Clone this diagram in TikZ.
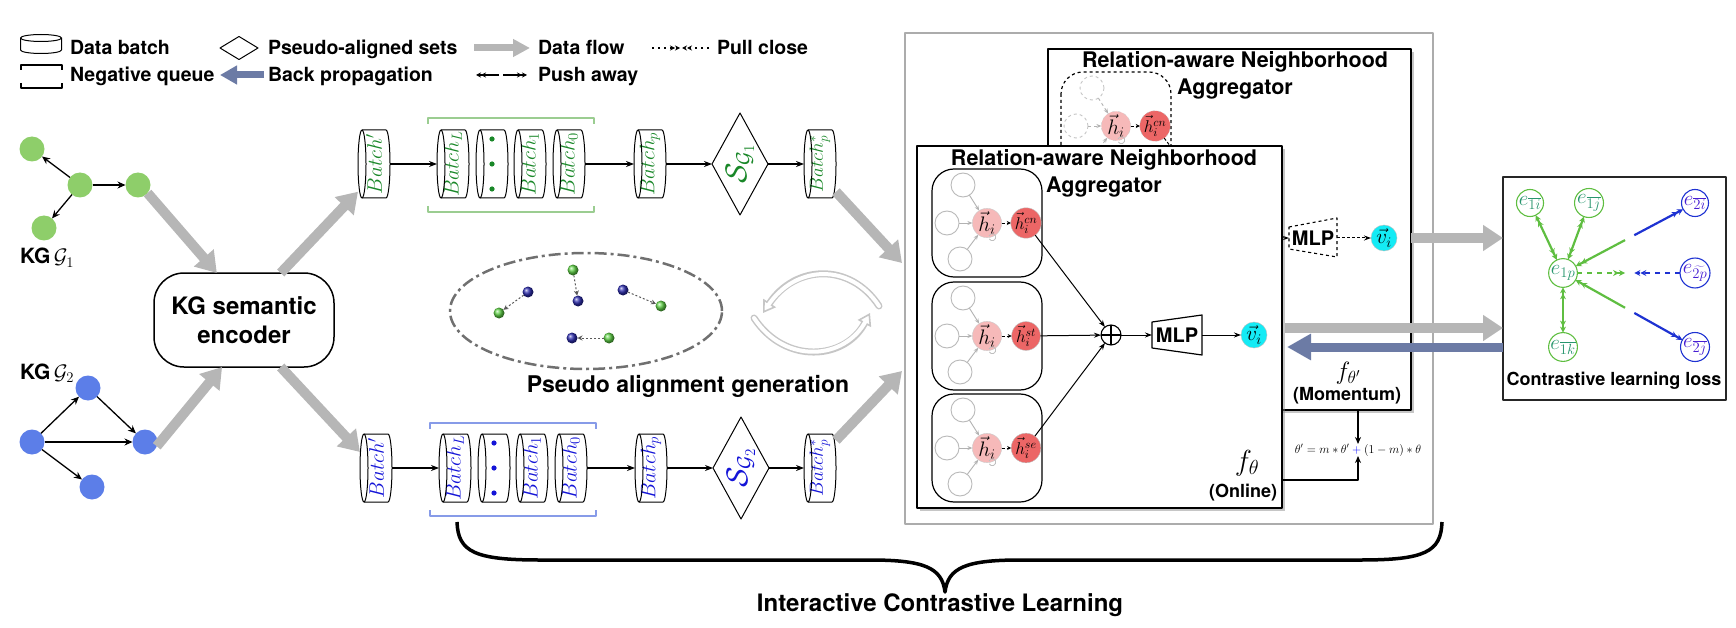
\RequirePackage{fix-cm}
\documentclass[tikz,border=0pt]{standalone}
\usepackage{graphicx}
\usepackage{fontspec}
\setmainfont{TeX Gyre Heros}
\usetikzlibrary{arrows.meta,shapes.geometric,shadows,calc}
\definecolor{kggreen}{RGB}{142,206,106}
\definecolor{kgblue}{RGB}{92,126,232}
\definecolor{txtgreen}{RGB}{25,135,40}
\definecolor{txtblue}{RGB}{20,20,215}
\definecolor{brgreen}{RGB}{155,205,145}
\definecolor{brblue}{RGB}{135,155,232}
\definecolor{flowgray}{RGB}{182,182,182}
\definecolor{bpblue}{RGB}{108,123,165}
\definecolor{hpink}{RGB}{246,185,185}
\definecolor{hred}{RGB}{236,102,102}
\definecolor{vcyan}{RGB}{20,235,245}
\definecolor{clgreen}{RGB}{95,190,65}
\definecolor{clblue}{RGB}{30,50,210}
\definecolor{cltxtg}{RGB}{40,150,110}
\definecolor{cltxtb}{RGB}{70,30,210}
\definecolor{dotg}{RGB}{95,210,70}
\definecolor{dotb}{RGB}{45,45,175}
\newcommand\myfs[1]{\fontsize{#1}{#1}\selectfont}
\newcommand\bt[3]{\rotatebox{90}{\myfs{#1}\textcolor{#2}{$#3$}}}
\newcommand\batchcyl[4]{%
  \node[batchbox] (#1) at (#2,#3) {#4};
  \draw[cylline] ($(#1.north west)+(4,0)$) -- ($(#1.north east)+(-4,0)$)
     arc[start angle=90,end angle=-90,x radius=4pt,y radius=34pt]
     -- ($(#1.south west)+(4,0)$)
     arc[start angle=270,end angle=90,x radius=4pt,y radius=34pt];
  \draw[cylline] ($(#1.north west)+(4,0)$) arc[start angle=90,end angle=-90,x radius=4pt,y radius=34pt];
}
\newcommand\aggbox[5]{%
  \draw[#5box] (#2,#3) rectangle ++(110,108);
  \node[#5nb] (#1t) at ($(#2,#3)+(31,16)$) {};
  \node[#5nb] (#1l) at ($(#2,#3)+(15,54)$) {};
  \node[#5nb] (#1b) at ($(#2,#3)+(28,90)$) {};
  \node[#5hn] (#1h) at ($(#2,#3)+(55,54)$) {$\vec{h}_i$};
  \node[#5xn] (#1x) at ($(#2,#3)+(94,54)$) {$\vec{h}_i^{#4}$};
  \draw[#5ga] (#1t) -- (#1h);
  \draw[#5ga] (#1l) -- (#1h);
  \draw[#5ga] (#1b) -- (#1h);
  \draw[hdash] (#1h) -- (#1x);
  \draw[loopst] ($(#1h)+(2,13)$) arc[start angle=160,end angle=-150,radius=3.5pt];
}
\tikzset{
  lbl/.style={font=\myfs{19.5}\bfseries, anchor=base west},
  kgg/.style={circle, fill=kggreen, minimum size=25pt},
  kgb/.style={circle, fill=kgblue, minimum size=25pt},
  kge/.style={line width=1.3pt, -{Stealth[length=8pt,width=7pt]}},
  flow/.style={draw=flowgray, line width=10pt, -{Triangle[length=20pt,width=25pt]}},
  flowsm/.style={draw=flowgray, line width=7pt, -{Triangle[length=17pt,width=17pt]}},
  bparr/.style={draw=bpblue, line width=9pt, -{Triangle[length=24pt,width=25pt]}},
  bparrsm/.style={draw=bpblue, line width=7pt, -{Triangle[length=17pt,width=18pt]}},
  batchbox/.style={minimum width=32pt, minimum height=68pt},
  cylline/.style={line width=1pt},
  rowarr/.style={line width=1.3pt, -{Stealth[length=8pt,width=6pt]}},
  rowdia/.style={draw, diamond, minimum width=56pt, minimum height=102pt, line width=1pt},
  pdg/.style={circle, minimum size=11pt, ball color=dotg},
  pdb/.style={circle, minimum size=11pt, ball color=dotb},
  pdarr/.style={draw=gray!70!black, line width=1pt, dash pattern=on 2pt off 2pt, -{Stealth[length=5pt,width=5pt]}},
  onbox/.style={rounded corners=22pt, line width=1.2pt},
  ghbox/.style={rounded corners=22pt, line width=1.2pt, dashed},
  onnb/.style={circle, draw=gray!55, minimum size=24pt, line width=0.9pt},
  ghnb/.style={onnb, draw=gray!45, dashed},
  onhn/.style={circle, fill=hpink, draw=gray!40, minimum size=24pt, font=\myfs{21}},
  ghhn/.style={onhn, dashed},
  onxn/.style={circle, fill=hred, draw=gray!50, minimum size=25pt, font=\myfs{17}},
  ghxn/.style={onxn, dashed},
  onga/.style={draw=gray!60, line width=0.9pt, -{Stealth[length=5pt,width=4pt]}},
  ghga/.style={onga, dashed},
  hdash/.style={densely dashed, line width=0.9pt, -{Stealth[length=4pt,width=4pt]}},
  loopst/.style={draw=gray!50, line width=0.8pt},
  thinarr/.style={line width=1pt, -{Stealth[length=7pt,width=5pt]}},
  vnode/.style={circle, fill=vcyan, draw=gray!50, minimum size=26pt, font=\myfs{21}},
  bigbox/.style={draw, fill=white, line width=1.5pt, drop shadow={shadow xshift=3pt, shadow yshift=-3pt, opacity=.45}},
  clg/.style={circle, draw=clgreen, line width=1.1pt, minimum size=27pt, text=cltxtg, font=\myfs{21}},
  clb/.style={circle, draw=clblue, line width=1.1pt, minimum size=27pt, text=cltxtb, font=\myfs{21}},
  dtip/.tip={Stealth[length=6pt,width=6pt]Stealth[length=6pt,width=6pt]},
  pushg/.style={draw=clgreen, line width=2.2pt, dtip-dtip},
  halfg/.style={draw=clgreen, line width=2.2pt, -dtip},
  halfb/.style={draw=clblue, line width=2.2pt, -dtip},
  pullg/.style={draw=clgreen, line width=2.2pt, dash pattern=on 5pt off 5pt, -dtip},
  pullb/.style={draw=clblue, line width=2.2pt, dash pattern=on 5pt off 5pt, -dtip},
  cycout/.style={draw=gray!45, line width=7pt, line cap=round, -{Triangle[open, fill=white, length=12pt, width=15pt, line width=1.6pt]}},
  cycin/.style={draw=white, line width=4pt, line cap=round, shorten >=9pt},
}
\begin{document}
\begin{tikzpicture}[x=1pt,y=-1pt,line join=round,every node/.style={inner sep=0pt,outer sep=0pt}]
\useasboundingbox (0,0) rectangle (1736,628);
% ---------------- legend
\node[minimum width=41pt, minimum height=18pt] (legcyl) at (41,44) {};
\draw[line width=1pt] (41,38) ellipse [x radius=20.5pt, y radius=3.5pt];
\draw[line width=1pt] (20.5,38) -- (20.5,50) arc[start angle=180,end angle=360,x radius=20.5pt,y radius=3.5pt] -- (61.5,38);
\node[lbl] (tdb) at (70,55) {Data batch};
\draw[line width=1.5pt] (21,70) -- (21,65) -- (62,65) -- (62,70);
\draw[line width=1.5pt] (21,83) -- (21,88) -- (62,88) -- (62,83);
\node[lbl] (tnq) at (70,82) {Negative queue};
\node[draw, diamond, minimum width=38pt, minimum height=23pt, line width=1pt] (legdia) at (239,48) {};
\node[lbl] (tpas) at (268,55) {Pseudo-aligned sets};
\coordinate (lbp1) at (264,75); \coordinate (lbp2) at (220,75);
\draw[bparrsm] (lbp1) -- (lbp2);
\node[lbl] (tbp) at (268,82) {Back propagation};
\coordinate (ldf1) at (474,48); \coordinate (ldf2) at (530,48);
\draw[flowsm] (ldf1) -- (ldf2);
\node[lbl] (tdf) at (538,55) {Data flow};
\coordinate (lpa0) at (499,75); \coordinate (lpa1) at (476,75);
\coordinate (lpb0) at (503,75); \coordinate (lpb1) at (527,75);
\draw[line width=1.2pt, -{Stealth[length=5pt,width=5pt]Stealth[length=5pt,width=5pt]}] (lpa0) -- (lpa1);
\draw[line width=1.2pt, -{Stealth[length=5pt,width=5pt]Stealth[length=5pt,width=5pt]}] (lpb0) -- (lpb1);
\node[lbl] (tpa) at (538,82) {Push away};
\coordinate (lpc0) at (652,48); \coordinate (lpc1) at (680,48);
\coordinate (lpd0) at (709,48); \coordinate (lpd1) at (682,48);
\draw[line width=1.2pt, dash pattern=on 2pt off 4pt, -{Stealth[length=5pt,width=5pt]Stealth[length=5pt,width=5pt]}] (lpc0) -- (lpc1);
\draw[line width=1.2pt, dash pattern=on 2pt off 4pt, -{Stealth[length=5pt,width=5pt]Stealth[length=5pt,width=5pt]}] (lpd0) -- (lpd1);
\node[lbl] (tpc) at (717,55) {Pull close};
% ---------------- KG graphs
\node[kgg] (g1a) at (32,149) {};
\node[kgg] (g1b) at (80,185) {};
\node[kgg] (g1c) at (138,185) {};
\node[kgg] (g1d) at (44,228) {};
\draw[kge] (g1b) -- (g1a);
\draw[kge] (g1b) -- (g1c);
\draw[kge] (g1b) -- (g1d);
\node[font=\myfs{21}, anchor=base west] (kg1) at (20,264) {\bfseries KG\,$\mathcal{G}_1$};
\node[kgb] (g2a) at (32,442) {};
\node[kgb] (g2b) at (88,388) {};
\node[kgb] (g2c) at (145,442) {};
\node[kgb] (g2d) at (92,487) {};
\draw[kge] (g2a) -- (g2b);
\draw[kge] (g2b) -- (g2c);
\draw[kge] (g2a) -- (g2c);
\draw[kge] (g2a) -- (g2d);
\node[font=\myfs{21}, anchor=base west] (kg2) at (20,379) {\bfseries KG\,$\mathcal{G}_2$};
% ---------------- encoder
\node[draw, line width=1.5pt, rounded corners=30pt, minimum width=180pt, minimum height=94pt, align=center, font=\fontsize{24}{29}\selectfont\bfseries] (enc) at (244,320) {KG semantic\\encoder};
% ---------------- batch rows
\batchcyl{bA1}{374}{164}{\bt{21}{txtgreen}{Batch'}}
\batchcyl{bL1}{453}{164}{\bt{21}{txtgreen}{Batch_L}}
\batchcyl{bD1}{492}{164}{}
\batchcyl{b11}{530}{164}{\bt{21}{txtgreen}{Batch_1}}
\batchcyl{b01}{569}{164}{\bt{21}{txtgreen}{Batch_0}}
\batchcyl{bp1}{650}{164}{\bt{21}{txtgreen}{Batch_p}}
\node[rowdia] (s1) at (740,164) {};
\node (s1t) at (s1) {\bt{30}{txtgreen}{\mathcal{S}_{\mathcal{G}_1}}};
\batchcyl{bs1}{820}{164}{\bt{19}{txtgreen}{Batch_p^{*}}}
\foreach \yy in {-25,0,25} \fill[txtgreen] ($(bD1)+(0,\yy)$) circle[radius=2.6pt];
\draw[brgreen, line width=1.5pt] (428,124) -- (428,118) -- (594,118) -- (594,124);
\draw[brgreen, line width=1.5pt] (428,206) -- (428,212) -- (594,212) -- (594,206);
\draw[rowarr] (bA1) -- (bL1);
\draw[rowarr] (b01) -- (bp1);
\draw[rowarr] (bp1) -- (s1);
\draw[rowarr] (s1) -- (bs1);
\batchcyl{bA2}{376}{468}{\bt{21}{txtblue}{Batch'}}
\batchcyl{bL2}{455}{468}{\bt{21}{txtblue}{Batch_L}}
\batchcyl{bD2}{494}{468}{}
\batchcyl{b12}{532}{468}{\bt{21}{txtblue}{Batch_1}}
\batchcyl{b02}{571}{468}{\bt{21}{txtblue}{Batch_0}}
\batchcyl{bp2}{651}{468}{\bt{21}{txtblue}{Batch_p}}
\node[rowdia] (s2) at (741,468) {};
\node (s2t) at (s2) {\bt{30}{txtblue}{\mathcal{S}_{\mathcal{G}_2}}};
\batchcyl{bs2}{820}{468}{\bt{19}{txtblue}{Batch_p^{*}}}
\foreach \yy in {-25,0,25} \fill[txtblue] ($(bD2)+(0,\yy)$) circle[radius=2.6pt];
\draw[brblue, line width=1.5pt] (430,429) -- (430,423) -- (596,423) -- (596,429);
\draw[brblue, line width=1.5pt] (430,510) -- (430,516) -- (596,516) -- (596,510);
\draw[rowarr] (bA2) -- (bL2);
\draw[rowarr] (b02) -- (bp2);
\draw[rowarr] (bp2) -- (s2);
\draw[rowarr] (s2) -- (bs2);
% ---------------- gray flows on the left
\draw[flow] (g1c.-40) -- (enc.120);
\draw[flow] (g2c.-20) -- (enc.-115);
\draw[flow] (enc.52) -- (bA1.-120);
\draw[flow] (enc.-52) -- (bA2.135);
\coordinate (in1) at (902,263);
\coordinate (in2) at (902,371);
\draw[flow] (bs1.-60) -- (in1);
\draw[flow] (bs2.60) -- (in2);
% ---------------- pseudo alignment
\node[ellipse, draw=gray!60!black!80, line width=2.5pt, dash pattern=on 12pt off 4pt on 3pt off 4pt, minimum width=272pt, minimum height=116pt] (pae) at (586,311) {};
\node[pdg] (pg1) at (573,270) {}; \node[pdb] (pb1) at (578,301) {};
\node[pdb] (pb2) at (528,292) {}; \node[pdg] (pg2) at (499,313) {};
\node[pdb] (pb3) at (623,290) {}; \node[pdg] (pg3) at (661,306) {};
\node[pdg] (pg4) at (609,338) {}; \node[pdb] (pb4) at (572,338) {};
\draw[pdarr] (pg1) -- (pb1);
\draw[pdarr] (pb2) -- (pg2);
\draw[pdarr] (pb3) -- (pg3);
\draw[pdarr] (pg4) -- (pb4);
\node[font=\myfs{23}\bfseries, anchor=base] (pat) at (688,392) {Pseudo alignment generation};
\coordinate (cy1) at (879,306); \coordinate (cy2) at (763,313);
\coordinate (cy3) at (754,318); \coordinate (cy4) at (870,313);
\draw[cycout] (cy1) .. controls (850,262) and (795,265) .. (cy2);
\draw[cycin] (cy1) .. controls (850,262) and (795,265) .. (cy2);
\draw[cycout] (cy3) .. controls (785,365) and (845,360) .. (cy4);
\draw[cycin] (cy3) .. controls (785,365) and (845,360) .. (cy4);
% ---------------- encoders
\node[draw=gray!65, line width=1.5pt, minimum width=528pt, minimum height=491pt] (outer) at (1169,278.5) {};
\node[bigbox, minimum width=363pt, minimum height=361pt] (mom) at (1229.5,229.5) {};
\node[font=\myfs{21.5}\bfseries, anchor=base] (tm1) at (1235,68) {Relation-aware Neighborhood};
\node[font=\myfs{21.5}\bfseries, anchor=base] (tm2) at (1235,95) {Aggregator};
\aggbox{g1}{1061}{72}{cn}{gh}
\coordinate (gplus) at (1240,238);
\draw[densely dashed, line width=1pt] (g1x) -- (gplus);
\node[font=\myfs{20}\bfseries, minimum width=48pt, minimum height=22pt] (gmlp) at (1313,238) {MLP};
\draw[dashed, line width=1.1pt] (1289,227) -- (1337,218) -- (1337,257) -- (1289,249) -- cycle;
\draw[thinarr] (gplus) -- (gmlp);
\node[vnode] (gv) at (1384,238) {$\vec{v}_i$};
\draw[thinarr, densely dashed] (gmlp) -- (gv);
\node[font=\myfs{25}] (fm) at (1348,373) {$f_{\theta'}$};
\node[font=\myfs{18}\bfseries, anchor=base] (tmom) at (1347,400) {(Momentum)};
% online
\node[bigbox, minimum width=365pt, minimum height=362pt] (online) at (1099.5,327) {};
\node[font=\myfs{21.5}\bfseries, anchor=base] (to1) at (1104,166) {Relation-aware Neighborhood};
\node[font=\myfs{21.5}\bfseries, anchor=base] (to2) at (1104,193) {Aggregator};
\aggbox{a1}{932}{169}{cn}{on}
\aggbox{a2}{932}{282}{st}{on}
\aggbox{a3}{932}{394}{se}{on}
\node[circle, draw, line width=1.1pt, minimum size=20pt] (oplus) at (1111,335) {};
\draw[line width=1.1pt] (oplus.north) -- (oplus.south) (oplus.west) -- (oplus.east);
\node[font=\myfs{20}\bfseries, minimum width=50pt, minimum height=28pt] (omlp) at (1177,335) {MLP};
\draw[line width=1.2pt] (1152,322) -- (1202,315) -- (1202,355) -- (1152,348) -- cycle;
\node[vnode] (ov) at (1254,335) {$\vec{v}_i$};
\draw[thinarr] (a1x) -- (oplus);
\draw[thinarr] (a2x) -- (oplus);
\draw[thinarr] (a3x) -- (oplus);
\draw[thinarr] (oplus) -- (omlp);
\draw[thinarr] (omlp) -- (ov);
\node[font=\myfs{29}] (fo) at (1247,463) {$f_{\theta}$};
\node[font=\myfs{18}\bfseries, anchor=base] (tonl) at (1243,497) {(Online)};
% update rule
\node[font=\myfs{12}] (form) at (1358,450) {$\theta' = m*\theta' \mathbin{\textcolor{blue}{+}} (1-m)*\theta$};
\draw[line width=1.2pt, -{Stealth[length=7pt,width=6pt]}] (mom.south -| form) -- (form.north);
\coordinate (fb) at (1282,480);
\draw[line width=1.2pt, -{Stealth[length=7pt,width=6pt]}] (fb) -- (fb -| form) -- (form.south);
% ---------------- contrastive box
\node[draw=gray!30!black, line width=1.3pt, minimum width=223pt, minimum height=223pt] (cl) at (1614.5,288.5) {};
\node[clg] (e1i) at (1530,203) {$e_{\overline{1i}}$};
\node[clg] (e1j) at (1589,203) {$e_{\overline{1j}}$};
\node[clg] (e1p) at (1563,273) {$e_{1p}$};
\node[clg] (e1k) at (1563,347) {$e_{\overline{1k}}$};
\node[clb] (e2i) at (1695,203) {$e_{\overline{2i}}$};
\node[clb] (e2p) at (1695,273) {$e_{\widetilde{2p}}$};
\node[clb] (e2j) at (1695,347) {$e_{\overline{2j}}$};
\draw[pushg] (e1p) -- (e1i);
\draw[pushg] (e1p) -- (e1j);
\draw[pushg] (e1p) -- (e1k);
\draw[halfg] ($(e1p)!0.47!(e2i)$) -- (e1p);
\draw[halfb] ($(e1p)!0.54!(e2i)$) -- (e2i);
\draw[halfg] ($(e1p)!0.47!(e2j)$) -- (e1p);
\draw[halfb] ($(e1p)!0.54!(e2j)$) -- (e2j);
\draw[pullg] (e1p) -- ($(e1p)!0.47!(e2p)$);
\draw[pullb] (e2p) -- ($(e1p)!0.54!(e2p)$);
\node[font=\myfs{18}\bfseries, anchor=base] (tcl) at (1614,385) {Contrastive learning loss};
% ---------------- arrows to / from loss
\draw[flow] (mom.east |- gv) -- (cl.west |- gv);
\coordinate (of) at (1285,328);
\draw[flow] (of) -- (cl.west |- of);
\coordinate (bpe) at (1287,347);
\draw[bparr] (cl.west |- bpe) -- (bpe);
% ---------------- brace
\coordinate (brL) at (457,522); \coordinate (brR) at (1442,522); \coordinate (brT) at (945,592);
\draw[line width=3.5pt] (brL) .. controls (458,552) and (475,560) .. (540,560) -- (870,560) .. controls (925,560) and (942,568) .. (brT) .. controls (948,568) and (965,560) .. (1020,560) -- (1360,560) .. controls (1425,560) and (1441,552) .. (brR);
\node[font=\myfs{24}\bfseries, anchor=base] (icl) at (940,611) {Interactive Contrastive Learning};
\end{tikzpicture}
\end{document}
